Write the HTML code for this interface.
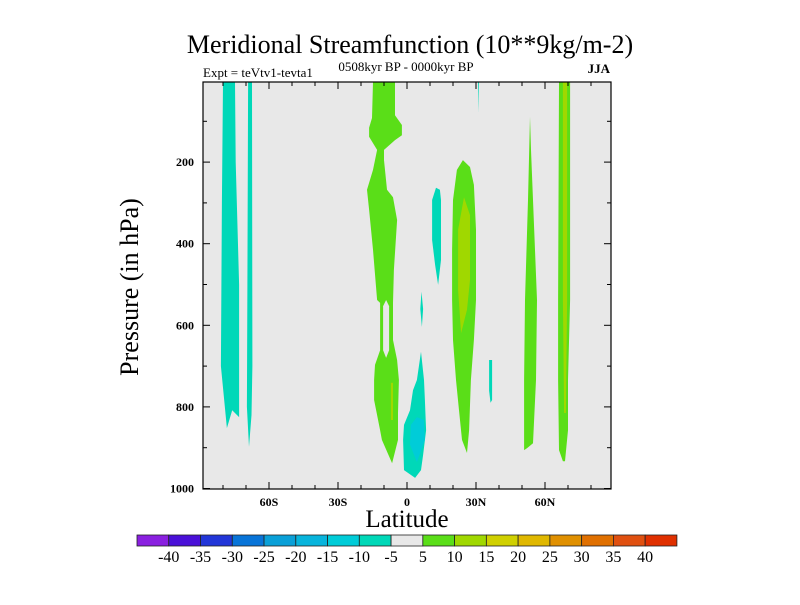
<!DOCTYPE html>
<html><head><meta charset="utf-8"><style>
html,body{margin:0;padding:0;background:#fff;}
svg text{font-family:"Liberation Serif",serif;}
</style></head><body>
<svg id="chart" width="800" height="600" viewBox="0 0 800 600">
<text x="410" y="53" font-size="26" text-anchor="middle">Meridional Streamfunction (10**9kg/m-2)</text>
<text x="406" y="71" font-size="13" text-anchor="middle">0508kyr BP - 0000kyr BP</text>
<text x="203" y="77" font-size="13">Expt = teVtv1-tevta1</text>
<text x="610" y="73" font-size="13" font-weight="bold" text-anchor="end">JJA</text>
<text transform="translate(138,287) rotate(-90)" font-size="26" text-anchor="middle">Pressure (in hPa)</text>
<text x="407" y="527" font-size="25" text-anchor="middle">Latitude</text>
<g id="plot"></g>
<g id="cbar"></g>
</svg>
<script>
const NS="http://www.w3.org/2000/svg";
const latTicks=[-80,-70,-60,-50,-40,-30,-20,-10,0,10,20,30,40,50,60,70,80];
const latLabels={"-60":"60S","-30":"30S","0":"0","30":"30N","60":"60N"};
const presTicks=[100,200,300,400,500,600,700,800,900,1000];
const presLabels=[200,400,600,800,1000];
const levels=[-40,-35,-30,-25,-20,-15,-10,-5,5,10,15,20,25,30,35,40];
const levelColors=["#8a20e0","#4a10d8","#2236d8","#0874d8","#0aa0d8","#08b4dc","#00ccd8","#00d8b8","#e8e8e8","#5ade18","#a0d800","#d0d000","#e0b800","#e09000","#e07000","#e05010","#e03000"];
// contour regions: [colorIndex, [[lat,pressure],...]]
const regionLeftCyan=[7,[[-80,4],[-74.8,4],[-74.5,200],[-73,500],[-73,825],[-76,808],[-78.3,852],[-80.9,700],[-80.5,300]]];
const regionThinCyan=[7,[[-69.1,4],[-67.4,4],[-67.2,700],[-67.6,820],[-68.7,898],[-69.6,800],[-69.4,500]]];
const regionEqGreen=[9,[[-14.8,4],[-15.2,92],[-16.5,116],[-16.5,138],[-13,170],[-14.8,219],[-17.4,268],[-16.5,317],[-14.8,415],[-13,538],[-11.7,545],[-11.7,661],[-13.9,697],[-14.3,734],[-14.3,783],[-11.7,857],[-10.9,881],[-6.5,938],[-3.9,881],[-3.9,815],[-3.5,734],[-4.3,685],[-6.1,636],[-6.1,545],[-5.7,464],[-4.3,342],[-6.1,286],[-8.7,268],[-10,195],[-10,170],[-5.2,146],[-2.2,134],[-2.2,109],[-5.2,85],[-5.2,4]]];
const regionEqHole=[8,[[-9.1,538],[-7.8,553],[-7.8,661],[-9.1,680],[-10.4,661],[-10.4,553]]];
const regionEqCore=[10,[[-7,741],[-6.1,741],[-6.1,832],[-7,832]]];
const regionEqCyan=[7,[[6.1,665],[4.3,734],[2.6,759],[1.3,808],[-1.3,844],[-1.7,881],[-1.3,955],[3.5,974],[6.1,955],[7,918],[8.3,857],[7.8,783],[7.4,734]]];
const regionEqCyanCore=[6,[[4.3,825],[7.4,832],[7.8,881],[4.3,935],[1.3,893],[1.7,844]]];
const regionCyanNH=[7,[[12.6,263],[10.9,293],[10.9,391],[12.2,452],[13.5,501],[14.8,440],[14.8,293],[14.3,268]]];
const regionCyanSmall=[7,[[6.3,518],[7,560],[6.5,604],[5.8,560]]];
const region30Green=[9,[[24.3,195],[21.7,219],[20,293],[19.6,415],[19.6,538],[20,636],[21.3,734],[22.6,808],[23.9,881],[26.1,913],[27,857],[27.8,734],[29.1,636],[30,538],[30,366],[29.1,256],[27.4,212]]];
const region30Core=[10,[[24.8,286],[27.4,330],[27.4,489],[26.1,562],[23.5,619],[22.2,514],[22.2,366]]];
const regionThinTop=[7,[[30.9,4],[31.3,4],[31.1,79]]];
const regionThinMid=[7,[[35.7,685],[37,685],[37,783],[36.3,790],[35.7,760]]];
const region55Green=[9,[[53.5,89],[52.6,293],[51.3,538],[50.9,734],[50.9,906],[52.2,901],[54.8,889],[56.1,734],[56.5,538],[54.8,293],[53.9,170]]];
const region68Green=[9,[[66.1,4],[70.9,4],[70.9,538],[70,734],[70,857],[68.7,933],[67.8,933],[66.1,906],[65.7,734],[65.7,538]]];
const region68Core=[10,[[67.8,4],[69.6,4],[69.6,538],[69.1,815],[68.3,815],[67.8,538]]];
const regions=[regionLeftCyan,regionThinCyan,regionEqGreen,regionEqHole,regionEqCore,regionEqCyan,regionEqCyanCore,regionCyanNH,regionCyanSmall,region30Green,region30Core,regionThinTop,regionThinMid,region55Green,region68Green,region68Core];
const regionNames=["cyan-band-80s","cyan-band-68s","green-band-equator","gap-equator","core-equator","cyan-equator-low","cyan-core-equator","cyan-band-12n","cyan-small-6n","green-band-30n","core-30n","cyan-thin-31n","cyan-thin-36n","green-band-55n","green-band-68n","core-68n"];

const X0=203,X1=611,Y0=82,Y1=489;
function xs(lat){return 407+2.3*lat;}
function ys(p){return 80.5+0.408*p;}
const plot=document.getElementById("plot");
function mk(tag,attrs,parent){const e=document.createElementNS(NS,tag);for(const k in attrs)e.setAttribute(k,attrs[k]);parent.appendChild(e);return e;}

const bg=mk("rect",{x:X0,y:Y0,width:X1-X0,height:Y1-Y0,fill:"#e8e8e8"},plot);


regions.forEach((r,i)=>{
  const pts=r[1].map(v=>xs(v[0]).toFixed(1)+","+ys(v[1]).toFixed(1)).join(" ");
  const pg=mk("polygon",{points:pts,fill:levelColors[r[0]]},plot);
  
  
});
const frame=mk("rect",{x:X0,y:Y0,width:X1-X0,height:Y1-Y0,fill:"none",stroke:"#000","stroke-width":1.2},plot);


latTicks.forEach(l=>{
  const x=xs(l),major=(String(l) in latLabels),len=major?7:4;
  const t1=mk("line",{x1:x,x2:x,y1:Y1,y2:Y1-len,stroke:"#000"},plot);
  
  
  const t2=mk("line",{x1:x,x2:x,y1:Y0,y2:Y0+len,stroke:"#000"},plot);
  
  
  if(major){
    const tx=mk("text",{x:x,y:Y1+17,"font-size":12,"font-weight":"bold","text-anchor":"middle"},plot);
    tx.textContent=latLabels[String(l)];
    
    
  }
});
presTicks.forEach(p=>{
  const y=ys(p),major=presLabels.includes(p),len=major?7:4;
  const t1=mk("line",{x1:X0,x2:X0+len,y1:y,y2:y,stroke:"#000"},plot);
  
  
  const t2=mk("line",{x1:X1,x2:X1-len,y1:y,y2:y,stroke:"#000"},plot);
  
  
  if(major){
    const tx=mk("text",{x:X0-9,y:y+4,"font-size":12,"font-weight":"bold","text-anchor":"end"},plot);
    tx.textContent=String(p);
    
    
  }
});
const cb=document.getElementById("cbar");
const CB0=137,CBW=31.76,CBY=535,CBH=11;
levelColors.forEach((c,i)=>{
  const r=mk("rect",{x:CB0+i*CBW,y:CBY,width:CBW,height:CBH,fill:c,stroke:"#222","stroke-width":0.8},cb);
  
  
});
levels.forEach((v,i)=>{
  const t=mk("text",{x:CB0+(i+1)*CBW,y:562,"font-size":16,"text-anchor":"middle"},cb);
  t.textContent=String(v);
  
  
});
</script>
</body></html>
